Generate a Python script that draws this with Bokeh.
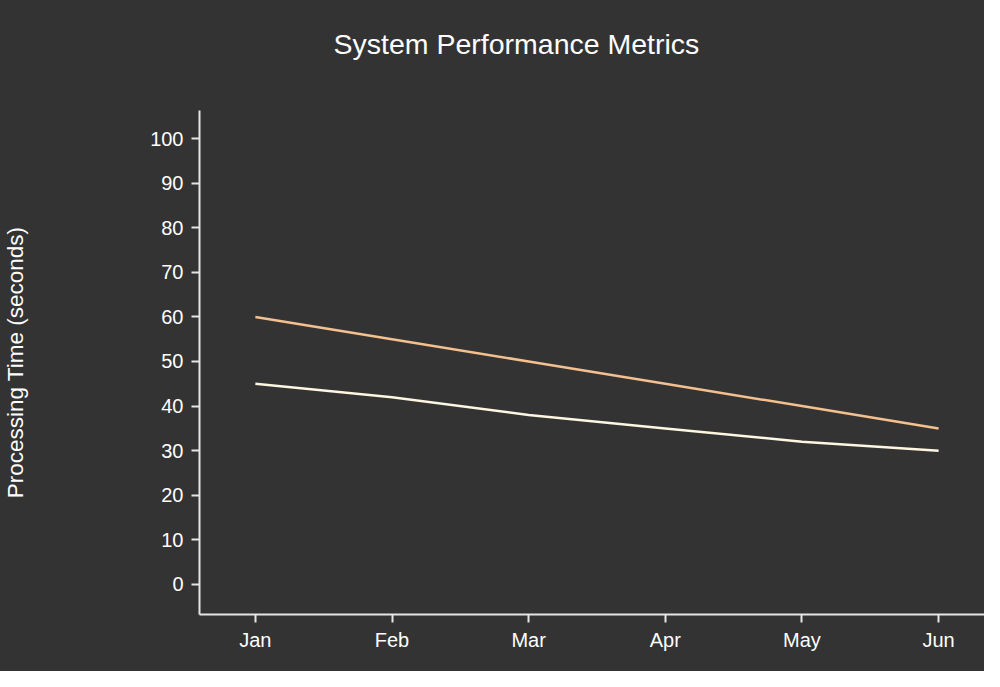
from bokeh.plotting import figure
from bokeh.models import FixedTicker, Range1d, Title
from bokeh.embed import file_html
from bokeh.resources import INLINE

months = ["Jan", "Feb", "Mar", "Apr", "May", "Jun"]
series_a = [60, 55, 50, 45, 40, 35]
series_b = [45, 42, 38, 35, 32, 30]
y_ticks = [0, 10, 20, 30, 40, 50, 60, 70, 80, 90, 100]
title_text = "System Performance Metrics"

x_idx = list(range(len(months)))

BG = "#333333"
FONT = "Liberation Sans"

p = figure(width=984, height=671, output_backend="svg", toolbar_location=None,
           x_range=Range1d(-0.4088, 5.3358), y_range=Range1d(-6.73, 106.28),
           background_fill_color=None, border_fill_color=None,
           min_border_left=197, min_border_right=0, min_border_top=110,
           min_border_bottom=57)
p.styles = {"background-color": BG}

p.outline_line_color = None
p.grid.visible = False

# spacer between frame and title
p.add_layout(Title(text=" ", text_font_size="20px", standoff=27, text_color=BG), "above")
p.add_layout(Title(text=title_text, text_color="#ffffff", text_font=FONT,
                   text_font_size="28.5px", text_font_style="normal",
                   align="left", offset=134, standoff=0), "above")

p.line(x_idx, series_a, line_color="#f4c08f", line_width=2.5)
p.line(x_idx, series_b, line_color="#fdf6e0", line_width=2.5)

for ax in (p.xaxis[0], p.yaxis[0]):
    ax.axis_line_color = "#e6e6e6"
    ax.axis_line_width = 2
    ax.major_tick_line_color = "#e6e6e6"
    ax.major_tick_line_width = 2
    ax.major_tick_out = 8
    ax.major_tick_in = 0
    ax.minor_tick_line_color = None
    ax.major_label_text_color = "#ffffff"
    ax.major_label_text_font = FONT
    ax.major_label_text_font_size = "20px"

p.xaxis.ticker = FixedTicker(ticks=x_idx)
p.xaxis.major_label_overrides = {i: m for i, m in zip(x_idx, months)}
p.xaxis.major_label_standoff = 6

p.yaxis.ticker = FixedTicker(ticks=y_ticks)
p.yaxis.major_label_standoff = 8
p.yaxis.axis_label = "Processing Time (seconds)"
p.yaxis.axis_label_text_color = "#ffffff"
p.yaxis.axis_label_text_font = FONT
p.yaxis.axis_label_text_font_size = "22.5px"
p.yaxis.axis_label_text_font_style = "normal"
p.yaxis.axis_label_standoff = 119

open("out.html", "w").write(file_html(p, INLINE))
